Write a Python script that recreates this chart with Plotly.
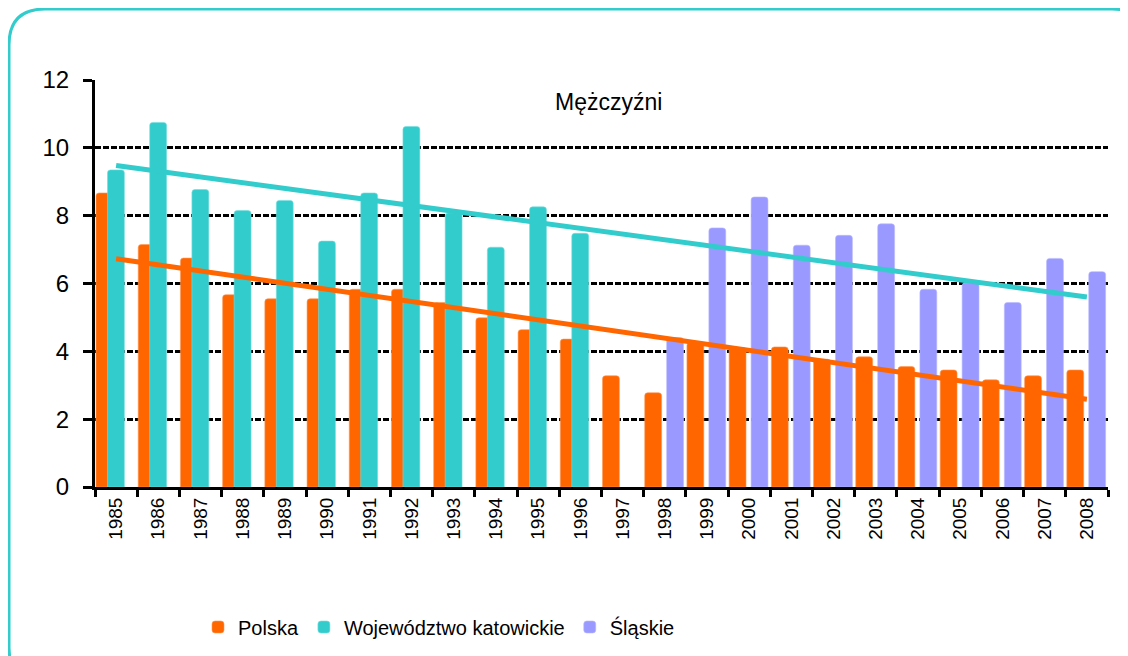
import plotly.graph_objects as go

years = [str(y) for y in range(1985, 2009)]

polska = [8.67, 7.15, 6.75, 5.67, 5.55, 5.55, 5.83, 5.83, 5.44, 4.99, 4.64, 4.36,
          3.28, 2.78, 4.26, 4.11, 4.13, 3.77, 3.84, 3.55, 3.45, 3.16, 3.28, 3.45]
katowickie = [9.35, 10.75, 8.77, 8.15, 8.45, 7.25, 8.67, 10.63, 8.08, 7.07, 8.26, 7.48,
              None, None, None, None, None, None, None, None, None, None, None, None]
slaskie = [None, None, None, None, None, None, None, None, None, None, None, None,
           None, 4.41, 7.64, 8.55, 7.13, 7.42, 7.76, 5.83, 6.02, 5.44, 6.74, 6.35]

trend_years = ["1985", "2008"]
trend_katowickie = [9.48, 5.60]
trend_polska = [6.73, 2.59]

y_ticks = [0, 2, 4, 6, 8, 10, 12]

ORANGE = "#FF6600"
TEAL = "#33CCCC"
PURPLE = "#9999FF"
FONT = "Liberation Sans, Arial, sans-serif"

# page-pixel layout of the plot area (page has an 8px body margin)
BODY = 8
W, H = 1128, 656
P_LEFT, P_RIGHT, P_TOP, P_BOTTOM = 95, 1108, 80, 487
PW = P_RIGHT - P_LEFT
PH = P_BOTTOM - P_TOP
ML = P_LEFT - BODY
MT = P_TOP - BODY
MR = W - ML - PW
MB = H - MT - PH


def px(x):
    return (x - P_LEFT) / PW


def py(y):
    return (P_BOTTOM - y) / PH


fig = go.Figure()
fig.add_trace(go.Bar(x=years, y=polska, name="Polska", marker_color=ORANGE,
                     width=0.4, offset=-0.476,
                     marker=dict(cornerradius=3, line=dict(color="#FF9955", width=0.6))))
fig.add_trace(go.Bar(x=years, y=katowickie, name="Województwo katowickie", marker_color=TEAL,
                     width=0.4, offset=-0.204,
                     marker=dict(cornerradius=3, line=dict(color="#77DDDD", width=0.6))))
fig.add_trace(go.Bar(x=years, y=slaskie, name="Śląskie", marker_color=PURPLE,
                     width=0.4, offset=0.044,
                     marker=dict(cornerradius=3, line=dict(color="#BBBBFF", width=0.6))))
fig.add_trace(go.Scatter(x=trend_years, y=trend_katowickie, mode="lines",
                         line=dict(color=TEAL, width=5), showlegend=False, hoverinfo="skip"))
fig.add_trace(go.Scatter(x=trend_years, y=trend_polska, mode="lines",
                         line=dict(color=ORANGE, width=5), showlegend=False, hoverinfo="skip"))

# rounded frame (page pixel coordinates)
L, T, R, B, r = 9, 9, 1148, 684, 36
path = (f"M {px(L)},{py(T + r)} "
        f"Q {px(L)},{py(T)} {px(L + r)},{py(T)} "
        f"L {px(R - r)},{py(T)} "
        f"Q {px(R)},{py(T)} {px(R)},{py(T + r)} "
        f"L {px(R)},{py(B - r)} "
        f"Q {px(R)},{py(B)} {px(R - r)},{py(B)} "
        f"L {px(L + r)},{py(B)} "
        f"Q {px(L)},{py(B)} {px(L)},{py(B - r)} Z")
fig.add_shape(type="path", path=path, xref="paper", yref="paper",
              line=dict(color=TEAL, width=3), layer="below")

fig.add_annotation(text="Mężczyźni", x=px(608), y=py(102), xref="paper", yref="paper",
                   xanchor="center", yanchor="middle",
                   showarrow=False, font=dict(family=FONT, size=23, color="black"))

fig.update_layout(
    width=W, height=H,
    margin=dict(l=ML, r=MR, t=MT, b=MB),
    paper_bgcolor="white", plot_bgcolor="white",
    barmode="overlay",
    font=dict(family=FONT, color="black"),
    legend=dict(orientation="h", x=px(439), y=py(627), xanchor="center", yanchor="middle",
                font=dict(family=FONT, size=20, color="black"), traceorder="normal",
                itemwidth=30),
    xaxis=dict(type="category", showgrid=False, showline=True, linecolor="black", linewidth=3,
               ticks="outside", tickson="boundaries", ticklen=7, tickwidth=3, tickcolor="black",
               tickangle=-90, tickfont=dict(family=FONT, size=19, color="black"),
               range=[-0.5, 23.5]),
    yaxis=dict(range=[0, 12], tickvals=y_ticks, showgrid=True, gridcolor="black", gridwidth=2.5,
               griddash="6px,2px", showline=True, linecolor="black", linewidth=3,
               ticks="outside", ticklen=9, tickwidth=3, tickcolor="black",
               tickfont=dict(family=FONT, size=24, color="black"), zeroline=False,
               ticklabelstandoff=9),
)

fig.write_html("out.html")
